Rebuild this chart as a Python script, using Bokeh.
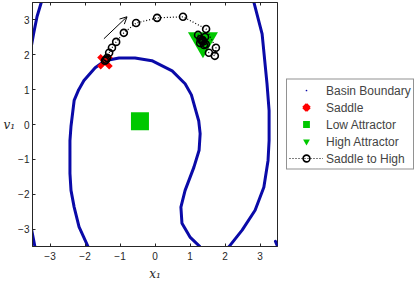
from bokeh.plotting import figure
from bokeh.models import (Legend, LegendItem, LinearAxis, FixedTicker,
                          Arrow, OpenHead, Range1d)
from bokeh.embed import file_html
from bokeh.resources import INLINE

# ---- data ----
ticks = [-3, -2, -1, 0, 1, 2, 3]

# basin boundary curves
b1_x = [-3.55, -3.53, -3.47, -3.37, -3.25, -3.22]
b1_y = [2.10, 2.26, 2.60, 3.10, 3.50, 3.60]

b2_x = [-1.85, -1.91, -2.17, -2.31, -2.40, -2.43, -2.43, -2.43, -2.40, -2.31, -2.18, -2.03,
        -1.71, -1.43, -1.03, -0.57, -0.09, 0.49, 0.86, 1.04, 1.14, 1.25, 1.29, 1.26, 1.11,
        0.86, 0.74, 0.77, 1.00, 1.29, 1.35]
b2_y = [-3.60, -3.51, -2.94, -2.37, -1.89, -1.40, -0.74, -0.46, -0.05, 0.69, 1.00, 1.26,
        1.63, 1.83, 1.91, 1.91, 1.83, 1.54, 1.17, 0.85, 0.49, 0.10, -0.26, -0.74, -1.23,
        -1.89, -2.37, -2.83, -3.23, -3.51, -3.56]

b3_x = [2.80, 2.83, 3.06, 3.20, 3.26, 3.26, 3.23, 3.11, 2.86, 2.49, 2.11, 2.05]
b3_y = [3.60, 3.49, 2.60, 1.17, 0.40, -0.46, -1.03, -1.80, -2.46, -3.03, -3.51, -3.58]

b4_x = [-3.56, -3.54, -3.43, -3.41]
b4_y = [-2.80, -2.94, -3.51, -3.60]

b5_x = [3.44, 3.48, 3.55]
b5_y = [-3.35, -3.45, -3.55]

saddle_x = [-1.43]
saddle_y = [1.80]
low_x = [-0.43]
low_y = [0.09]
high_x = [1.37]
high_y = [2.40]

traj_x = [-1.43, -1.40, -1.37, -1.31, -1.23, -1.11, -0.89, -0.54, 0.06, 0.80, 1.46,
          1.74, 1.71, 1.54, 1.29, 1.23, 1.43, 1.45, 1.40, 1.30, 1.34, 1.38, 1.36]
traj_y = [1.83, 1.86, 1.91, 2.06, 2.20, 2.37, 2.63, 2.91, 3.06, 3.09, 2.74,
          2.20, 1.97, 2.06, 2.34, 2.57, 2.51, 2.30, 2.28, 2.45, 2.40, 2.38, 2.42]

arrow_start = (-1.46, 2.46)
arrow_end = (-0.80, 3.09)

BLUE = "#0a0aa8"
GREEN = "#00c800"
RED = "#ff0000"
AX = "#262626"
FONT = "Liberation Sans"

p = figure(frame_width=245, frame_height=244, output_backend="svg",
           toolbar_location=None, x_range=Range1d(-3.5, 3.5), y_range=Range1d(-3.5, 3.5),
           min_border_left=0, min_border_right=0, min_border_top=2, min_border_bottom=0)
p.grid.visible = False
p.outline_line_color = AX
p.outline_line_width = 1

for ax in (p.xaxis[0], p.yaxis[0]):
    ax.ticker = FixedTicker(ticks=ticks)
    ax.major_tick_in = 3
    ax.major_tick_out = 0
    ax.minor_tick_line_color = None
    ax.axis_line_color = AX
    ax.major_tick_line_color = AX
    ax.major_label_text_font = FONT
    ax.major_label_text_font_size = "10px"
    ax.major_label_text_color = AX
    ax.major_label_standoff = 5
p.yaxis.major_label_standoff = 3

p.xaxis.axis_label = "x\u2081"
p.yaxis.axis_label = "v\u2081"
for ax in (p.xaxis[0], p.yaxis[0]):
    ax.axis_label_text_font = "DejaVu Serif"
    ax.axis_label_text_font_style = "italic"
    ax.axis_label_text_font_size = "12px"
    ax.axis_label_text_color = AX
    ax.axis_label_standoff = 4
if hasattr(p.yaxis[0], "axis_label_orientation"):
    p.yaxis[0].axis_label_orientation = "horizontal"
    p.yaxis[0].axis_label_standoff = 0

top_ax = LinearAxis(ticker=FixedTicker(ticks=ticks))
top_ax.major_tick_in = 3
top_ax.major_tick_out = 0
top_ax.minor_tick_line_color = None
top_ax.axis_line_color = AX
top_ax.major_tick_line_color = AX
top_ax.major_label_overrides = {t: "" for t in ticks}
top_ax.major_label_standoff = 0
p.add_layout(top_ax, "above")

# boundary
all_bx = b1_x + b2_x + b3_x + b4_x + b5_x
all_by = b1_y + b2_y + b3_y + b4_y + b5_y
dots = p.scatter(all_bx, all_by, marker="dot", size=6, color=BLUE)
for bx, by in ((b1_x, b1_y), (b2_x, b2_y), (b3_x, b3_y), (b4_x, b4_y), (b5_x, b5_y)):
    p.line(bx, by, line_color=BLUE, line_width=3, line_join="round", line_cap="round")

r_saddle = p.scatter(saddle_x, saddle_y, marker="x", size=17, line_color=RED, line_width=5)
r_low = p.scatter(low_x, low_y, marker="square", size=18, fill_color=GREEN, line_color=None)
r_high = p.scatter(high_x, high_y, marker="inverted_triangle", size=30, fill_color=GREEN,
                   line_color=None)
r_tl = p.line(traj_x, traj_y, line_color="black", line_dash="1 2", line_width=1.2)
r_tc = p.scatter(traj_x, traj_y, marker="circle", size=7, fill_color=None,
                 line_color="black", line_width=1.6)

p.add_layout(Arrow(end=OpenHead(size=7, line_width=1, line_color="black"),
                   x_start=arrow_start[0], y_start=arrow_start[1],
                   x_end=arrow_end[0], y_end=arrow_end[1], line_width=1,
                   line_color="black"))

legend = Legend(items=[
    LegendItem(label="Basin Boundary", renderers=[dots]),
    LegendItem(label="Saddle", renderers=[r_saddle]),
    LegendItem(label="Low Attractor", renderers=[r_low]),
    LegendItem(label="High Attractor", renderers=[r_high]),
    LegendItem(label="Saddle to High", renderers=[r_tl, r_tc]),
], location="center_left", margin=9, padding=2, spacing=0, glyph_width=34, glyph_height=17,
   label_height=17, label_standoff=3, label_text_font=FONT, label_text_font_size="12px",
   border_line_color=AX, border_line_width=1, background_fill_alpha=1)
p.add_layout(legend, "right")

open("out.html", "w").write(file_html(p, INLINE))
